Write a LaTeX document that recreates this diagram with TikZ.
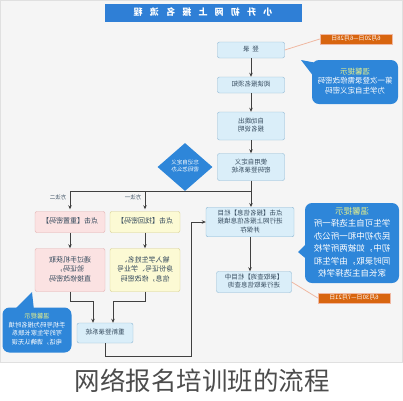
\documentclass[tikz,border=0pt]{standalone}
\usepackage{fontspec}
\setmainfont{Noto Sans CJK SC}
\usepackage{graphicx}
\usetikzlibrary{shapes.geometric,arrows.meta}

\definecolor{bar}{HTML}{2F7FD6}
\definecolor{tip}{HTML}{2E86D9}
\definecolor{tiphead}{HTML}{E6F08A}
\definecolor{boxline}{HTML}{8DB7D3}
\definecolor{boxfill}{HTML}{DAEEF9}
\definecolor{yelline}{HTML}{D6CE8A}
\definecolor{yelfill}{HTML}{FCFAD4}
\definecolor{pinkline}{HTML}{E2AEAE}
\definecolor{pinkfill}{HTML}{FBE2E2}
\definecolor{datefill}{HTML}{D8650F}
\definecolor{dateline}{HTML}{F0B8A2}
\definecolor{boxtext}{HTML}{34495C}

% text of the picture is printed mirrored
\newcommand\mir[1]{\reflectbox{\begin{tabular}{@{}c@{}}#1\end{tabular}}}

\tikzset{
  flow/.style={draw=boxline, fill=boxfill, rounded corners=2pt, minimum width=67pt,
    minimum height=16pt, inner sep=2pt, text=boxtext, font=\fontsize{6.5}{8.5}\selectfont},
  yel/.style={flow, draw=yelline, fill=yelfill, minimum width=70pt, font=\fontsize{7}{9.5}\selectfont},
  pink/.style={flow, draw=pinkline, fill=pinkfill, minimum width=70pt, font=\fontsize{7}{9.5}\selectfont},
  datetag/.style={draw=dateline, fill=datefill, text=white, minimum width=72pt,
    minimum height=10pt, inner sep=1pt, font=\fontsize{6}{7}\selectfont},
  bubble/.style={fill=tip, rounded corners=7pt, text=white, inner sep=2pt},
  conn/.style={draw=black!75, line width=0.8pt, -{Stealth[length=4pt,width=3.5pt]}},
  line/.style={draw=black!75, line width=0.8pt}
}

\begin{document}
\begin{tikzpicture}[x=1pt, y=-1pt]
\useasboundingbox (0,0) rectangle (403,400);
\fill[black!4] (0,0) rectangle (403,362);
\draw[black!12] (0.5,0.5) rectangle (402.5,362);

\node[fill=bar, minimum width=197pt, minimum height=18pt, text=white,
  font=\fontsize{9}{11}\selectfont\bfseries\addfontfeature{LetterSpace=80}] (0) at (203,13) {\mir{小升初网上报名流程}};

% main column
\node[flow] (1) at (251,50) {\mir{登\, 录}};
\node[flow] (2) at (251,85) {\mir{阅读报名须知}};
\node[flow, minimum height=28pt] (3) at (251,126) {\mir{自动跳出\\报名说明}};
\node[flow, minimum height=27pt] (4) at (251,167) {\mir{使用自定义\\密码登录系统}};
\node[diamond, aspect=1.15, fill=tip, inner sep=0pt, minimum width=55pt, minimum height=48pt,
  text=white, font=\fontsize{5.5}{7}\selectfont] (d) at (185,167) {\mir{忘记自定义\\密码怎么办}};

\node[flow, minimum width=88pt, minimum height=29pt] (5) at (250,222) {\mir{点击【报名信息】栏目\\进行网上报名信息填报\\并保存}};
\node[flow, minimum width=75pt, minimum height=20pt] (6) at (254,282) {\mir{【录取查询】栏目中\\进行录取信息查询}};

% two ways
\node[pink, minimum height=21pt] (7) at (70,222) {\mir{点击【重置密码】}};
\node[yel, minimum height=21pt] (8) at (145,222) {\mir{点击【找回密码】}};
\node[pink, minimum height=43pt] (9) at (70,270) {\mir{通过手机获取\\验证码，\\直接修改密码}};
\node[yel, minimum height=43pt] (10) at (145,270) {\mir{输入学生姓名、\\身份证号、学业号\\信息，修改密码}};
\node[flow, minimum width=56pt, minimum height=20pt] (11) at (105,333) {\mir{重新登录系统}};

\draw[conn] (1) -- (2);
\draw[conn] (2) -- (3);
\draw[conn] (3) -- (4);

\draw[line] (4.south) -- +(0,10.5) coordinate (j);
\draw[conn] (j) -- (j |- 5.north);
\draw[conn, shorten >=2pt] (j) -| (7.north);
\draw[conn, shorten >=2pt] (8.north |- j) -- (8.north);
\node[font=\fontsize{5.5}{6}\selectfont, text=boxtext] (m2) at (58,198) {\mir{方法二}};
\node[font=\fontsize{5.5}{6}\selectfont, text=boxtext] (m1) at (133,198) {\mir{方法一}};

\draw[conn] (7) -- (9);
\draw[conn] (8) -- (10);
\draw[conn] (9.south) -- ++(0,10) -| ([xshift=-12pt]11.north);
\draw[conn] (10.south) -- ++(0,10) -| ([xshift=8pt]11.north);
\draw[conn] (11.south) -- ++(0,13) -| ([xshift=-14pt]5.west) -- (5.west);
\draw[conn] (5.south -| 6.north) ++(-4,0) coordinate (k) -- (k |- 6.north);

% dates
\node[datetag] (t1) at (356,39) {\mir{6月20日—6月28日}};
\node[datetag] (t2) at (354,298) {\mir{6月30日—7月21日}};
\draw[dateline, line width=0.8pt] (1.east) -- (t1.west);
\draw[dateline, line width=0.8pt] (6.east) -- (t2.west);

% tips
\node[bubble, minimum width=86pt, minimum height=44pt, font=\fontsize{7.5}{9.5}\selectfont] (b1) at (355,82)
  {\mir{{\color{tiphead}温馨提示}\\第一次登录需修改密码\\为学生自定义密码}};
\fill[tip] (301,60) -- (322,64) -- (314,77) -- cycle;

\node[bubble, minimum width=94pt, minimum height=80pt, font=\fontsize{8.5}{12.5}\selectfont] (b2) at (352,243)
  {\mir{{\color{tiphead}温馨提示}\\学生可自主选择一所\\民办初中和一所公办\\初中，如被两所学校\\同时录取，由学生和\\家长自主选择学校}};
\fill[tip] (298,252) -- (310,240) -- (310,262) -- cycle;

\node[bubble, minimum width=69pt, minimum height=45pt, font=\fontsize{6.3}{8.5}\selectfont] (b3) at (37,330)
  {\mir{{\color{tiphead}温馨提示}\\手机号码为报名时填\\写的学生家长联系\\电话，请确认无误}};
\fill[tip] (32,292) -- (14,310) -- (34,310) -- cycle;

\node[font=\fontsize{25.5}{28}\selectfont, text=black!70] (cap) at (202,381) {网络报名培训班的流程};
\end{tikzpicture}
\end{document}
